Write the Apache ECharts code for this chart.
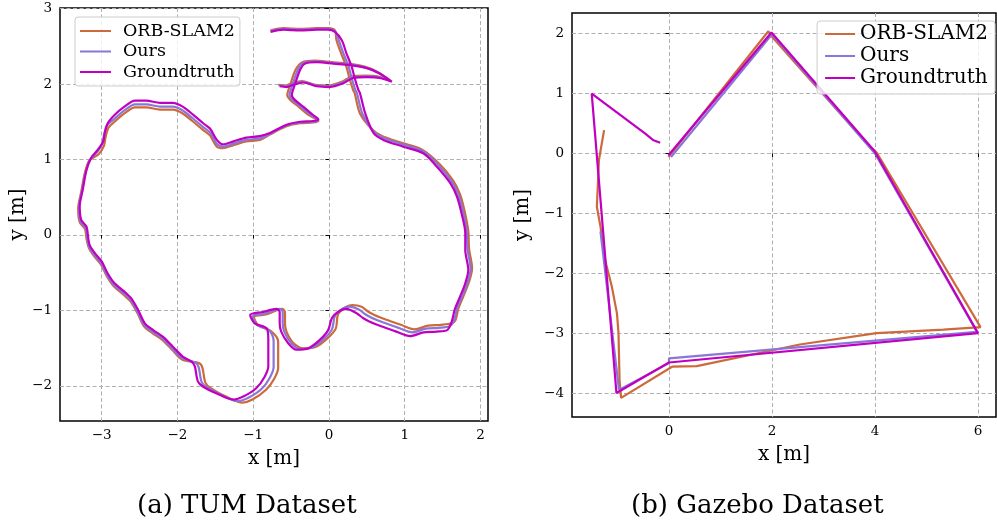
<!DOCTYPE html>
<html>
<head>
<meta charset="utf-8">
<script src="https://cdn.jsdelivr.net/npm/echarts@6/dist/echarts.min.js"></script>
<style>
html, body { margin: 0; padding: 0; background: #fff; }
#chart { width: 997px; height: 529px; }
</style>
</head>
<body>
<div id="chart"></div>
<script>
var seriesNames = ['ORB-SLAM2', 'Ours', 'Groundtruth'];
var colors = ['#cc6a3c', '#8a76d6', '#c000c0'];

// (a) TUM trajectories, [x, y] in metres
var tumGroundtruth = [
	[-0.77,2.69],[-0.60,2.72],[-0.38,2.71],[-0.16,2.72],[-0.01,2.72],[0.08,2.69],[0.17,2.58],[0.23,2.41],[0.30,2.23],[0.34,2.08],
	[0.39,1.92],[0.41,1.88],[0.48,1.61],[0.59,1.35],[0.72,1.26],[0.98,1.17],[1.25,1.08],[1.42,0.91],[1.60,0.69],[1.69,0.51],
	[1.75,0.29],[1.80,0.02],[1.80,-0.20],[1.84,-0.46],[1.80,-0.64],[1.73,-0.82],[1.66,-0.99],[1.62,-1.15],[1.56,-1.26],[1.42,-1.28],
	[1.25,-1.29],[1.07,-1.34],[0.89,-1.28],[0.72,-1.22],[0.54,-1.15],[0.45,-1.10],[0.37,-1.04],[0.23,-0.98],[0.12,-1.02],[0.04,-1.10],
	[-0.01,-1.26],[-0.12,-1.39],[-0.27,-1.50],[-0.43,-1.52],[-0.54,-1.43],[-0.63,-1.28],[-0.65,-1.17],[-0.65,-1.02],[-0.69,-0.98],[-0.87,-1.02],
	[-1.04,-1.06],[-0.98,-1.17],[-0.82,-1.24],[-0.80,-1.39],[-0.80,-1.74],[-0.85,-1.88],[-0.96,-2.03],[-1.13,-2.14],[-1.26,-2.18],[-1.48,-2.10],
	[-1.66,-2.01],[-1.73,-1.94],[-1.77,-1.74],[-1.81,-1.68],[-1.93,-1.61],[-2.06,-1.48],[-2.19,-1.35],[-2.32,-1.26],[-2.43,-1.17],[-2.52,-0.99],
	[-2.61,-0.84],[-2.70,-0.75],[-2.83,-0.64],[-2.92,-0.51],[-3.00,-0.35],[-3.09,-0.24],[-3.16,-0.13],[-3.18,-0.02],[-3.20,0.11],[-3.27,0.20],
	[-3.29,0.38],[-3.25,0.60],[-3.20,0.86],[-3.14,1.02],[-3.05,1.13],[-2.98,1.24],[-2.96,1.35],[-2.92,1.48],[-2.83,1.59],[-2.70,1.70],
	[-2.56,1.78],[-2.41,1.78],[-2.23,1.75],[-2.06,1.75],[-1.93,1.70],[-1.79,1.59],[-1.66,1.48],[-1.57,1.41],[-1.48,1.26],[-1.40,1.20],
	[-1.26,1.24],[-1.09,1.29],[-0.91,1.31],[-0.78,1.35],[-0.56,1.46],[-0.38,1.50],[-0.21,1.51],[-0.14,1.53],[-0.21,1.59],[-0.34,1.70],
	[-0.45,1.79],[-0.49,1.85],[-0.45,1.99],[-0.38,2.19],[-0.32,2.27],[-0.16,2.29],[0.06,2.27],[0.28,2.25],[0.50,2.21],[0.67,2.14],
	[0.83,2.03],[0.67,2.08],[0.50,2.09],[0.32,2.08],[0.19,2.01],[0.01,1.96],[-0.16,1.97],[-0.34,2.02],[-0.47,1.99],[-0.56,1.96],
	[-0.65,1.97]
];
var tumOurs = [
	[-0.77,2.70],[-0.60,2.73],[-0.38,2.72],[-0.16,2.73],[-0.01,2.73],[0.08,2.70],[0.13,2.58],[0.19,2.41],[0.26,2.23],[0.30,2.08],
	[0.35,1.92],[0.37,1.88],[0.44,1.61],[0.58,1.38],[0.71,1.29],[0.97,1.20],[1.24,1.11],[1.44,0.93],[1.62,0.71],[1.71,0.53],
	[1.77,0.31],[1.82,0.04],[1.83,-0.19],[1.87,-0.45],[1.83,-0.63],[1.76,-0.81],[1.69,-0.98],[1.65,-1.14],[1.59,-1.21],[1.45,-1.23],
	[1.28,-1.24],[1.10,-1.29],[0.92,-1.23],[0.75,-1.17],[0.57,-1.10],[0.48,-1.05],[0.40,-0.99],[0.27,-0.95],[0.16,-0.99],[0.08,-1.07],
	[0.04,-1.25],[-0.07,-1.38],[-0.22,-1.49],[-0.38,-1.51],[-0.50,-1.43],[-0.59,-1.28],[-0.61,-1.17],[-0.61,-1.02],[-0.65,-0.98],[-0.84,-1.04],
	[-1.01,-1.08],[-0.95,-1.19],[-0.79,-1.26],[-0.73,-1.40],[-0.73,-1.75],[-0.78,-1.89],[-0.89,-2.04],[-1.07,-2.16],[-1.20,-2.20],[-1.42,-2.12],
	[-1.61,-2.02],[-1.68,-1.95],[-1.72,-1.75],[-1.76,-1.69],[-1.94,-1.63],[-2.07,-1.50],[-2.20,-1.37],[-2.33,-1.28],[-2.44,-1.19],[-2.53,-1.01],
	[-2.62,-0.86],[-2.71,-0.77],[-2.84,-0.66],[-2.93,-0.53],[-3.01,-0.37],[-3.10,-0.26],[-3.17,-0.15],[-3.19,-0.04],[-3.21,0.09],[-3.28,0.18],
	[-3.30,0.36],[-3.26,0.58],[-3.21,0.84],[-3.15,1.00],[-3.06,1.10],[-2.99,1.21],[-2.97,1.32],[-2.93,1.45],[-2.83,1.54],[-2.70,1.65],
	[-2.56,1.73],[-2.41,1.73],[-2.23,1.70],[-2.06,1.70],[-1.93,1.65],[-1.79,1.54],[-1.66,1.43],[-1.57,1.36],[-1.48,1.21],[-1.40,1.17],
	[-1.26,1.21],[-1.09,1.26],[-0.91,1.28],[-0.78,1.34],[-0.56,1.45],[-0.38,1.49],[-0.21,1.50],[-0.14,1.52],[-0.24,1.59],[-0.37,1.70],
	[-0.48,1.79],[-0.52,1.85],[-0.48,1.99],[-0.41,2.19],[-0.34,2.28],[-0.18,2.30],[0.04,2.28],[0.26,2.26],[0.48,2.22],[0.65,2.15],
	[0.81,2.04],[0.66,2.09],[0.49,2.10],[0.31,2.09],[0.18,2.02],[0.00,1.97],[-0.17,1.98],[-0.35,2.03],[-0.48,2.00],[-0.57,1.97],
	[-0.66,1.98]
];
var tumOrb = [
	[-0.77,2.71],[-0.60,2.74],[-0.38,2.73],[-0.16,2.74],[-0.01,2.74],[0.08,2.71],[0.10,2.58],[0.16,2.41],[0.23,2.23],[0.27,2.08],
	[0.32,1.92],[0.34,1.88],[0.41,1.61],[0.57,1.40],[0.70,1.31],[0.96,1.22],[1.23,1.13],[1.46,0.94],[1.64,0.72],[1.73,0.54],
	[1.79,0.32],[1.84,0.05],[1.85,-0.18],[1.89,-0.44],[1.85,-0.62],[1.78,-0.80],[1.71,-0.97],[1.67,-1.13],[1.62,-1.17],[1.48,-1.19],
	[1.31,-1.20],[1.13,-1.25],[0.95,-1.19],[0.78,-1.13],[0.60,-1.06],[0.51,-1.01],[0.43,-0.95],[0.31,-0.93],[0.20,-0.97],[0.12,-1.05],
	[0.09,-1.24],[-0.02,-1.37],[-0.17,-1.48],[-0.33,-1.50],[-0.47,-1.43],[-0.56,-1.28],[-0.58,-1.17],[-0.58,-1.02],[-0.62,-0.98],[-0.82,-1.05],
	[-0.99,-1.09],[-0.93,-1.20],[-0.77,-1.27],[-0.67,-1.41],[-0.67,-1.76],[-0.72,-1.90],[-0.83,-2.05],[-1.01,-2.18],[-1.14,-2.22],[-1.36,-2.14],
	[-1.56,-2.03],[-1.63,-1.96],[-1.67,-1.76],[-1.71,-1.70],[-1.94,-1.65],[-2.07,-1.52],[-2.20,-1.39],[-2.33,-1.30],[-2.44,-1.21],[-2.53,-1.03],
	[-2.62,-0.88],[-2.71,-0.79],[-2.84,-0.68],[-2.93,-0.55],[-3.01,-0.39],[-3.10,-0.28],[-3.17,-0.17],[-3.20,-0.05],[-3.22,0.08],[-3.29,0.17],
	[-3.31,0.35],[-3.27,0.57],[-3.22,0.83],[-3.16,0.99],[-3.04,1.07],[-2.97,1.18],[-2.95,1.29],[-2.91,1.42],[-2.83,1.50],[-2.70,1.61],
	[-2.56,1.69],[-2.41,1.69],[-2.23,1.66],[-2.06,1.66],[-1.93,1.61],[-1.79,1.50],[-1.66,1.39],[-1.57,1.32],[-1.48,1.17],[-1.40,1.15],
	[-1.26,1.19],[-1.09,1.24],[-0.91,1.26],[-0.78,1.33],[-0.56,1.44],[-0.38,1.48],[-0.21,1.49],[-0.14,1.51],[-0.27,1.59],[-0.40,1.70],
	[-0.51,1.79],[-0.55,1.85],[-0.51,1.99],[-0.44,2.19],[-0.35,2.29],[-0.19,2.31],[0.03,2.29],[0.25,2.27],[0.47,2.23],[0.64,2.16],
	[0.80,2.05],[0.65,2.10],[0.48,2.11],[0.30,2.10],[0.17,2.03],[-0.01,1.98],[-0.18,1.99],[-0.36,2.04],[-0.49,2.01],[-0.58,1.98],
	[-0.67,1.99]
];

// (b) Gazebo trajectories
var gazeboGroundtruth = [
	[-0.01,-0.03],[1.99,2.02],[3.99,0.04],[6.00,-3.00],[0.00,-3.49],[-1.02,-4.00],[-1.50,1.00],[-1.11,0.75],[-0.72,0.50],[-0.46,0.33],[-0.30,0.22],[-0.17,0.18]
];
var gazeboOurs = [
	[0.04,-0.06],[2.00,1.99],[4.00,0.00],[5.98,-2.98],[0.00,-3.42],[0.00,-3.50],[-0.97,-3.95],[-1.33,-1.30]
];
var gazeboOrb = [
	[-0.01,-0.06],[1.93,2.04],[2.00,1.95],[3.90,0.11],[4.03,0.02],[6.05,-2.90],[5.33,-2.94],[4.03,-3.00],[2.54,-3.19],[0.54,-3.55],[0.06,-3.56],
	[-0.93,-4.08],[-0.96,-3.78],[-0.98,-3.00],[-1.01,-2.67],[-1.11,-2.22],[-1.24,-1.78],[-1.33,-1.22],[-1.40,-0.89],[-1.36,-0.11],[-1.26,0.39]
];

var tumXTicks = [-3, -2, -1, 0, 1, 2];
var tumYTicks = [-2, -1, 0, 1, 2, 3];
var gazeboXTicks = [0, 2, 4, 6];
var gazeboYTicks = [-4, -3, -2, -1, 0, 1, 2];

var font = 'DejaVu Serif';
var myChart = echarts.init(document.getElementById('chart'));

function minusSign(v) {
	return String(v).replace('-', '\u2212');
}

function makeAxis(gridIndex, min, max, ticks, name, nameGap, isY) {
	return {
		type: 'value',
		gridIndex: gridIndex,
		min: min,
		max: max,
		name: name,
		nameLocation: 'middle',
		nameGap: nameGap,
		nameTextStyle: { fontFamily: font, fontSize: 20, color: '#000' },
		axisLine: { show: false },
		axisTick: { show: true, inside: false, length: 3.5, customValues: ticks, lineStyle: { color: '#000', width: 1 } },
		axisLabel: {
			customValues: ticks,
			formatter: minusSign,
			fontFamily: font,
			fontSize: 13.5,
			color: '#000',
			margin: isY ? 8 : 7
		},
		splitLine: { show: true, lineStyle: { color: '#b0b0b0', width: 1, type: [4, 2.5] } }
	};
}

function lineSeries(name, data, axisIndex, color, smooth) {
	return {
		name: name,
		type: 'line',
		xAxisIndex: axisIndex,
		yAxisIndex: axisIndex,
		data: data,
		showSymbol: false,
		smooth: smooth,
		color: color,
		lineStyle: { width: 2.2, color: color },
		silent: true
	};
}

var option = {
	animation: false,
	backgroundColor: '#fff',
	grid: [
		{ left: 60, top: 8, width: 428, height: 413, show: true, borderColor: '#000', borderWidth: 1.5 },
		{ left: 572, top: 13, width: 424, height: 404, show: true, borderColor: '#000', borderWidth: 1.5 }
	],
	xAxis: [
		makeAxis(0, -3.55, 2.10, tumXTicks, 'x [m]', 28, false),
		makeAxis(1, -1.883, 6.35, gazeboXTicks, 'x [m]', 28, false)
	],
	yAxis: [
		makeAxis(0, -2.464, 3.007, tumYTicks, 'y [m]', 23, true),
		makeAxis(1, -4.4, 2.345, gazeboYTicks, 'y [m]', 39, true)
	],
	legend: [
		{
			data: seriesNames,
			orient: 'vertical',
			left: 75,
			top: 17,
			padding: [4, 5, 4, 5],
			itemGap: 0.5,
			itemWidth: 31,
			itemHeight: 2,
			icon: 'rect',
			backgroundColor: 'rgba(255,255,255,0.8)',
			borderColor: '#cccccc',
			borderWidth: 1,
			borderRadius: 3,
			textStyle: { fontFamily: font, fontSize: 17.5, color: '#000', lineHeight: 20, padding: [0, 0, 0, 7] }
		},
		{
			data: seriesNames,
			orient: 'vertical',
			right: 2,
			top: 21,
			padding: [2, 7, 5, 8],
			itemGap: 0,
			itemWidth: 30,
			itemHeight: 2,
			icon: 'rect',
			backgroundColor: 'rgba(255,255,255,0.8)',
			borderColor: '#cccccc',
			borderWidth: 1,
			borderRadius: 3,
			textStyle: { fontFamily: font, fontSize: 20, color: '#000', lineHeight: 22 }
		}
	],
	graphic: [
		{ type: 'text', left: 137, top: 493, style: { text: '(a) TUM Dataset', font: '26px "DejaVu Serif"', fill: '#000' } },
		{ type: 'text', left: 631, top: 493, style: { text: '(b) Gazebo Dataset', font: '26px "DejaVu Serif"', fill: '#000' } }
	],
	series: [
		lineSeries(seriesNames[0], tumOrb, 0, colors[0], 0.3),
		lineSeries(seriesNames[1], tumOurs, 0, colors[1], 0.3),
		lineSeries(seriesNames[2], tumGroundtruth, 0, colors[2], 0.3),
		lineSeries(seriesNames[0], gazeboOrb, 1, colors[0], false),
		lineSeries(seriesNames[1], gazeboOurs, 1, colors[1], false),
		lineSeries(seriesNames[2], gazeboGroundtruth, 1, colors[2], false)
	]
};
myChart.setOption(option);
</script>
</body>
</html>
